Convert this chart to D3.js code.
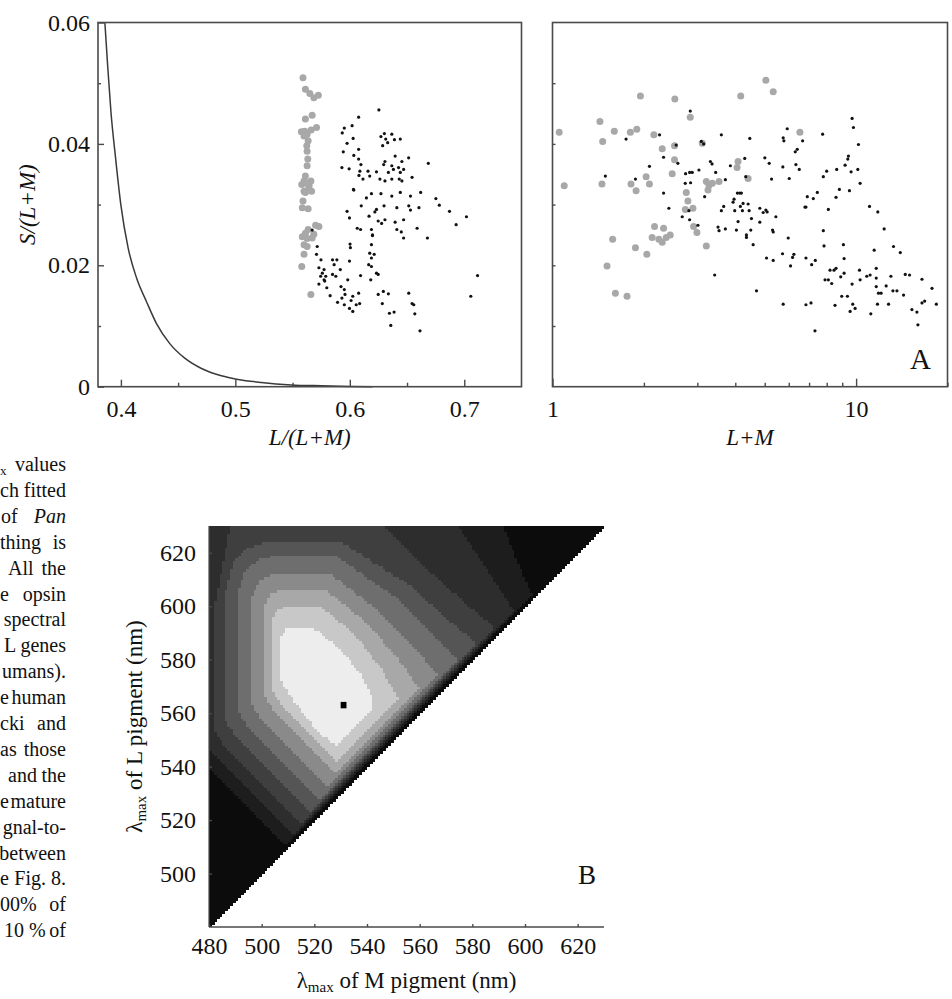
<!DOCTYPE html>
<html><head><meta charset="utf-8">
<script src="https://cdn.jsdelivr.net/npm/d3@7"></script>
<style>
body{margin:0;background:#fff;}
svg{display:block;}
text{font-family:"Liberation Serif","Times New Roman",serif;fill:#111;}
</style></head><body>
<svg id="chart" width="952" height="999"></svg>
<script>
// ---------------- DATA ----------------
// Panel A left: theoretical curve S/(L+M) vs L/(L+M)
const curveX = [0.386,0.3884,0.3913,0.3954,0.400,0.4064,0.4137,0.4224,0.4311,0.4427,0.4558,0.4704,0.4878,0.5023,0.5227,0.5488,0.575,0.600,0.620];
const curveY = [0.0600,0.0530,0.0453,0.0376,0.0299,0.0228,0.0179,0.0140,0.0104,0.0071,0.0047,0.0030,0.0018,0.0012,0.0007,0.0003,0.00015,0.00005,0];

// Panel A left: grey (Pan) points  [L/(L+M), S/(L+M)]
const leftGrey = [[0.5591,0.0509],[0.5612,0.0490],[0.5651,0.0483],[0.5686,0.0476],[0.5725,0.0480],[0.5671,0.0447],[0.5612,0.0441],
[0.5577,0.0420],[0.5606,0.0421],[0.5627,0.0416],[0.5662,0.0423],[0.5709,0.0427],[0.5600,0.0413],[0.5636,0.0405],[0.5624,0.0397],
[0.5627,0.0388],[0.5633,0.0375],[0.5627,0.0364],[0.5612,0.0347],[0.5600,0.0339],[0.5580,0.0333],[0.5624,0.0335],[0.5645,0.0331],
[0.5660,0.0339],[0.5636,0.0325],[0.5666,0.0322],[0.5600,0.0322],[0.5612,0.0320],[0.5591,0.0306],[0.5585,0.0295],[0.5636,0.0293],
[0.5701,0.0266],[0.5730,0.0264],[0.5636,0.0259],[0.5612,0.0253],[0.5585,0.0247],[0.5627,0.0244],[0.5671,0.0245],[0.5686,0.0251],
[0.5600,0.0234],[0.5627,0.0231],[0.5600,0.0218],[0.5580,0.0198],[0.5660,0.0152]];

// Panel A left: black (human) points
const leftBlack = [[0.6254,0.0456],[0.6077,0.0444],[0.6020,0.0430],[0.5952,0.0426],[0.5934,0.0418],[0.6029,0.0409],[0.5976,0.0401],[0.5943,0.0387],
[0.6077,0.0391],[0.6035,0.0381],[0.6077,0.0375],[0.5931,0.0361],[0.5994,0.0359],[0.6097,0.0366],[0.6088,0.0355],[0.6080,0.0348],[0.6159,0.0355],[0.6032,0.0325],
[0.6272,0.0412],[0.6302,0.0417],[0.6314,0.0408],[0.6367,0.0416],[0.6287,0.0397],[0.6331,0.0402],[0.6390,0.0407],[0.6441,0.0408],
[0.6396,0.0380],[0.6307,0.0371],[0.6296,0.0366],[0.6455,0.0371],[0.6514,0.0377],[0.6367,0.0364],[0.6381,0.0358],[0.6337,0.0353],[0.6426,0.0361],[0.6441,0.0353],[0.6470,0.0358],
[0.6307,0.0339],[0.6263,0.0342],[0.6367,0.0342],[0.6432,0.0342],[0.6455,0.0339],[0.6544,0.0345],[0.6686,0.0368],
[0.6115,0.0342],[0.6174,0.0347],[0.6233,0.0354],[0.6035,0.0324],[0.6189,0.0318],[0.6145,0.0311],[0.6272,0.0318],
[0.6367,0.0314],[0.6441,0.0320],[0.6530,0.0314],[0.6619,0.0320],[0.6752,0.0310],[0.6782,0.0299],[0.6871,0.0289],[0.7019,0.0280],[0.6929,0.0267],
[0.6100,0.0298],[0.6219,0.0288],[0.6233,0.0292],[0.6299,0.0298],[0.6411,0.0295],[0.6515,0.0298],[0.6530,0.0291],[0.6604,0.0295],[0.6470,0.0275],
[0.5976,0.0289],[0.5997,0.0278],[0.6168,0.0281],[0.6248,0.0273],[0.6307,0.0275],[0.6396,0.0271],[0.6588,0.0261],[0.6411,0.0259],[0.6450,0.0255],[0.6470,0.0245],[0.6678,0.0245],
[0.6065,0.0261],[0.6094,0.0259],[0.6189,0.0259],[0.6198,0.0250],[0.6278,0.0269],
[0.5671,0.0258],[0.5715,0.0231],[0.5709,0.0218],[0.5748,0.0209],[0.5730,0.0196],[0.5775,0.0193],[0.5790,0.0182],[0.5730,0.0169],[0.5775,0.0176],
[0.5849,0.0209],[0.5863,0.0201],[0.5887,0.0209],[0.5849,0.0185],[0.5878,0.0182],[0.5799,0.0163],[0.5828,0.0150],[0.5760,0.0187],[0.5781,0.0174],[0.5745,0.0182],
[0.5917,0.0193],[0.5982,0.0176],[0.6005,0.0229],[0.6002,0.0235],[0.5997,0.0207],
[0.5923,0.0165],[0.5952,0.0160],[0.5958,0.0152],[0.5931,0.0146],[0.5893,0.0139],[0.5952,0.0135],[0.6026,0.0149],[0.6011,0.0142],[0.5997,0.0129],[0.6026,0.0124],[0.6056,0.0135],[0.6077,0.0154],[0.6086,0.0137],
[0.6174,0.0220],[0.6189,0.0212],[0.6213,0.0218],[0.6165,0.0201],[0.6189,0.0198],[0.6233,0.0187],[0.6183,0.0176],[0.6094,0.0183],[0.6248,0.0185],[0.6189,0.0234],[0.6198,0.0249],
[0.6248,0.0152],[0.6293,0.0157],[0.6284,0.0137],[0.6337,0.0153],[0.6346,0.0121],[0.6387,0.0123],[0.6358,0.0101],[0.6515,0.0154],[0.6544,0.0137],[0.6559,0.0135],[0.6568,0.0120],[0.6613,0.0092],
[0.7057,0.0149],[0.7116,0.0183]];

// Panel A right: grey points [L+M, S/(L+M)]
const rightGrey = [[1.052,0.0419],[1.093,0.0331],[1.433,0.0437],[1.463,0.0404],[1.455,0.0334],[1.512,0.0199],[1.578,0.0243],[1.598,0.0421],
[1.611,0.0154],[1.760,0.0149],[1.805,0.0419],[1.895,0.0424],[1.814,0.0334],[1.885,0.0323],[1.876,0.0229],[1.948,0.0479],[2.034,0.0346],
[2.086,0.0334],[2.045,0.0218],[2.129,0.0246],[2.157,0.0415],[2.168,0.0264],[2.240,0.0243],[2.298,0.0238],[2.322,0.0261],[2.369,0.0246],
[2.442,0.0250],[2.298,0.0392],[2.529,0.0474],[2.523,0.0397],[2.523,0.0374],[2.479,0.0351],[2.758,0.0320],[2.793,0.0306],[2.843,0.0444],
[2.737,0.0292],[2.901,0.0294],[2.915,0.0264],[2.990,0.0254],[3.114,0.0401],[3.211,0.0338],[3.277,0.0332],[3.252,0.0324],[3.361,0.0335],
[3.536,0.0338],[3.211,0.0232],[4.085,0.0371],[4.055,0.0361],[4.169,0.0479],[4.409,0.0343],[5.043,0.0505],[5.333,0.0486],[6.531,0.0419]];

// Panel A right: black points
const rightBlack = [[2.843,0.0454],[1.747,0.0408],[2.252,0.0415],[1.493,0.0347],[1.876,0.0342],[2.086,0.0363],[2.322,0.0378],[2.322,0.0319],
[2.417,0.0294],[2.555,0.0398],[2.588,0.0368],[2.675,0.0280],[2.737,0.0335],[2.744,0.0351],[2.829,0.0353],[2.850,0.0336],[2.886,0.0353],
[2.814,0.0290],[2.829,0.0275],[3.013,0.0266],[3.036,0.0357],[3.091,0.0404],[3.170,0.0313],[3.146,0.0400],[3.311,0.0371],[3.353,0.0367],
[3.447,0.0353],[3.421,0.0184],[3.509,0.0263],[3.536,0.0257],[3.599,0.0415],[3.599,0.0290],[3.664,0.0297],[3.710,0.0341],[3.710,0.0260],
[3.854,0.0364],[3.933,0.0304],[3.963,0.0309],[3.983,0.0290],[4.064,0.0319],[4.085,0.0272],[4.034,0.0258],[4.137,0.0319],[4.190,0.0319],
[4.158,0.0297],[4.222,0.0290],[4.244,0.0302],[4.298,0.0376],[4.331,0.0346],[4.353,0.0246],[4.353,0.0250],[4.409,0.0301],[4.443,0.0290],
[4.465,0.0409],[4.522,0.0277],[4.499,0.0258],[4.580,0.0234],[4.698,0.0158],[4.818,0.0294],[4.818,0.0271],[5.005,0.0377],[4.942,0.0287],
[5.043,0.0291],[5.093,0.0288],[5.069,0.0212],[5.173,0.0368],[5.266,0.0342],[5.333,0.0208],[5.306,0.0258],[5.333,0.0255],[5.442,0.0280],
[5.753,0.0410],[5.782,0.0405],[5.738,0.0362],[5.724,0.0219],[5.753,0.0136],[5.931,0.0425],[5.976,0.0245],[6.022,0.0343],[6.083,0.0199],
[6.176,0.0213],[6.239,0.0218],[6.303,0.0387],[6.335,0.0366],[6.400,0.0391],[6.498,0.0358],[6.665,0.0405],[6.784,0.0296],[6.836,0.0296],
[6.906,0.0313],[6.836,0.0212],[6.836,0.0135],[7.103,0.0138],[7.139,0.0201],[7.228,0.0310],[7.338,0.0208],[7.451,0.0320],[7.320,0.0092],
[7.758,0.0416],[7.798,0.0346],[7.798,0.0257],[7.840,0.0232],[8.000,0.0355],[8.102,0.0292],[7.900,0.0176],[8.102,0.0176],[8.205,0.0192],
[8.311,0.0170],[8.459,0.0192],[8.588,0.0195],[8.523,0.0134],[8.632,0.0358],[8.588,0.0312],[8.809,0.0325],[8.899,0.0181],[8.967,0.0149],
[9.082,0.0234],[9.130,0.0211],[9.199,0.0365],[9.130,0.0187],[9.387,0.0375],[9.435,0.0380],[9.507,0.0323],[9.363,0.0149],[9.555,0.0124],
[9.701,0.0442],[9.799,0.0427],[9.627,0.0354],[9.701,0.0169],[9.750,0.0136],[9.924,0.0129],[10.18,0.0399],[10.13,0.0358],[10.31,0.0335],
[10.26,0.0192],[10.31,0.0176],[11.07,0.0297],[11.79,0.0288],[12.37,0.0260],[11.47,0.0225],[10.84,0.0182],[11.12,0.0184],[11.65,0.0195],
[11.65,0.0179],[11.65,0.0165],[11.85,0.0154],[12.09,0.0154],[11.76,0.0136],[11.18,0.0120],[12.56,0.0166],[12.79,0.0136],[13.02,0.0182],
[13.22,0.0158],[13.28,0.0231],[13.98,0.0221],[13.63,0.0158],[14.33,0.0151],[14.52,0.0185],[15.00,0.0184],[15.27,0.0127],[15.86,0.0123],
[15.98,0.0102],[16.48,0.0177],[16.82,0.0141],[16.48,0.0138],[17.78,0.0162],[18.38,0.0136]];

// Panel B: contour bands (outer -> inner), polygons in [M lambda_max, L lambda_max] nm
const bandPolygons = [
  [[470,550],[470,640],[588,640],[595,622],[600,610],[603,604],[509.5,510.5]],
  [[470,557],[470,640],[568,640],[578,625],[588,610],[596,598],[512.5,514.5]],
  [[482.5,553],[482.5,602],[485,614],[490,640],[540,640],[548,628],[565,612],[580,599],[589,592],[515.5,518.5],[485,549]],
  [[486.5,557],[486.5,606],[489,616],[495,622],[503,624.3],[530,624.3],[556,608],[572,594],[582,586],[519,523],[489,553]],
  [[491.5,560],[491.5,607],[494,614],[500,618],[507,619],[528,619],[550,604],[565,590],[575,580],[522.5,527.5],[494,556]],
  [[496.5,563],[496.5,604],[499,609.5],[504,612.3],[526,612.3],[545,598],[558,585],[567,574],[525.5,532.5],[499,559]],
  [[501,567],[501,600],[503,604.5],[508,606.3],[524,606.3],[540,594],[552,580],[560,569],[528.5,537.5],[504,562]],
  [[504,569],[504,595],[506,599],[511,600.4],[522,600.4],[535,590],[546,576],[552,565],[529,542],[507,564]],
  [[507.5,572],[507.5,589],[510,592.5],[519,592.5],[530,584],[538,574],[542,566],[542,561],[529,548],[522,552],[512,565]]
];
const bandColors = ["#0c0c0c","#1d1d1d","#2d2d2d","#3f3f3f","#555555","#6e6e6e","#8a8a8a","#a8a8a8","#c8c8c8","#ededed"];
const peakPoint = [531, 563];
const lambdaMin = 480, lambdaMax = 630;

// Ticks
const leftXTicks = [0.4,0.5,0.6,0.7], leftXMinor = [0.45,0.55,0.65];
const leftYTicks = [0,0.02,0.04,0.06], leftYMinor = [0.01,0.03,0.05];
const rightXTicks = [1,10], rightXMinor = [2,3,4,5,6,7,8,9,20];
const rightYTicks = [0.01,0.02,0.03,0.04,0.05];
const heatXTicks = [480,500,520,540,560,580,600,620];
const heatYTicks = [500,520,540,560,580,600,620];

// Clipped text column on the left (left fragment | right-justified fragment)
const textLines = [
  ["x","values"],["ch","fitted"],["of","Pan"],["thing","is"],["All","the"],["e","opsin"],["","spectral"],["L","genes"],
  ["","umans)."],["e","human"],["cki","and"],["as","those"],["and","the"],["e","mature"],["","gnal-to-"],["","between"],
  ["e","Fig. 8."],["00%","of"],["10 %","of"]
];
const textLeftX = [0,0,1,0,8,0,0,4,0,0,0,0,8,0,0,0,0,0,4];

// ---------------- DRAW ----------------
const svg = d3.select("#chart");
const frameColor = "#4a4a4a";
const tickFont = 24;

// ===== Panel A left =====
const xL = d3.scaleLinear([0.38,0.75],[98,521.5]);
const yA = d3.scaleLinear([0,0.06],[386.7,22.5]);
const gL = svg.append("g");

gL.append("g").attr("transform",`translate(0,${yA(0)})`)
  .call(d3.axisBottom(xL).tickValues(leftXTicks).tickSize(-7).tickPadding(13).tickFormat(d3.format(".1f")))
  .call(g=>g.select(".domain").remove());
gL.append("g").attr("transform",`translate(0,${yA(0)})`)
  .call(d3.axisBottom(xL).tickValues(leftXMinor).tickSize(-4).tickFormat(""))
  .call(g=>g.select(".domain").remove());
gL.append("g").attr("transform",`translate(${xL.range()[0]},0)`)
  .call(d3.axisLeft(yA).tickValues(leftYTicks).tickSize(-6).tickPadding(8).tickFormat(d=>d===0?"0":d.toFixed(2)))
  .call(g=>g.select(".domain").remove());
gL.append("g").attr("transform",`translate(${xL.range()[0]},0)`)
  .call(d3.axisLeft(yA).tickValues(leftYMinor).tickSize(-3).tickFormat(""))
  .call(g=>g.select(".domain").remove());

const curveLine = d3.line().x((d,i)=>xL(curveX[i])).y((d,i)=>yA(curveY[i])).curve(d3.curveMonotoneX);
gL.append("path").datum(curveX).attr("d",curveLine).attr("fill","none").attr("stroke","#3a3a3a").attr("stroke-width",1.5);

gL.append("g").selectAll("circle").data(leftGrey).join("circle")
  .attr("cx",d=>xL(d[0])).attr("cy",d=>yA(d[1])).attr("r",3.5).attr("fill","#a8a8a8");
gL.append("g").selectAll("circle").data(leftBlack).join("circle")
  .attr("cx",d=>xL(d[0])).attr("cy",d=>yA(d[1])).attr("r",1.6).attr("fill","#111");

gL.append("rect").attr("x",xL.range()[0]).attr("y",yA.range()[1])
  .attr("width",xL.range()[1]-xL.range()[0]).attr("height",yA.range()[0]-yA.range()[1])
  .attr("fill","none").attr("stroke",frameColor).attr("stroke-width",1.6);

// ===== Panel A right =====
const xR = d3.scaleLog([1,20],[552.5,947.5]);
const gR = svg.append("g");
gR.append("g").attr("transform",`translate(0,${yA(0)})`)
  .call(d3.axisBottom(xR).tickValues(rightXTicks).tickSize(-8).tickPadding(13).tickFormat(d3.format("d")))
  .call(g=>g.select(".domain").remove());
gR.append("g").attr("transform",`translate(0,${yA(0)})`)
  .call(d3.axisBottom(xR).tickValues(rightXMinor).tickSize(-4).tickFormat(""))
  .call(g=>g.select(".domain").remove());
gR.append("g").attr("transform",`translate(${xR.range()[0]},0)`)
  .call(d3.axisLeft(yA).tickValues(rightYTicks).tickSize(-3).tickFormat(""))
  .call(g=>g.select(".domain").remove());

gR.append("g").selectAll("circle").data(rightGrey).join("circle")
  .attr("cx",d=>xR(d[0])).attr("cy",d=>yA(d[1])).attr("r",3.5).attr("fill","#a8a8a8");
gR.append("g").selectAll("circle").data(rightBlack).join("circle")
  .attr("cx",d=>xR(d[0])).attr("cy",d=>yA(d[1])).attr("r",1.6).attr("fill","#111");

gR.append("rect").attr("x",xR.range()[0]).attr("y",yA.range()[1])
  .attr("width",xR.range()[1]-xR.range()[0]).attr("height",yA.range()[0]-yA.range()[1])
  .attr("fill","none").attr("stroke",frameColor).attr("stroke-width",1.6);

// titles panel A
svg.append("text").attr("x",(xL.range()[0]+xL.range()[1])/2).attr("y",445).attr("text-anchor","middle")
  .attr("font-size",23).attr("font-style","italic").text("L/(L+M)");
svg.append("text").attr("x",(xR.range()[0]+xR.range()[1])/2).attr("y",445).attr("text-anchor","middle")
  .attr("font-size",23).attr("font-style","italic").text("L+M");
svg.append("text").attr("transform",`translate(35,${(yA.range()[0]+yA.range()[1])/2}) rotate(-90)`)
  .attr("text-anchor","middle").attr("font-size",23).attr("font-style","italic").text("S/(L+M)");
svg.append("text").attr("x",931).attr("y",369).attr("text-anchor","end")
  .attr("font-family","Liberation Sans, Arial, sans-serif").attr("font-size",29).text("A");

// ===== Panel B heatmap =====
const xH = d3.scaleLinear([lambdaMin,lambdaMax],[209,604]);
const yH = d3.scaleLinear([lambdaMin,lambdaMax],[927,526]);
const gH = svg.append("g");

function levelAt(m,l){
  let lev = 0;
  for(let k=0;k<bandPolygons.length;k++){
    if(d3.polygonContains(bandPolygons[k],[m,l])) lev = k+1; else break;
  }
  return lev;
}
const cells = [];
for(let L=lambdaMin; L<lambdaMax; L++){
  let runStart = null, runLev = null;
  for(let M=lambdaMin; M<=L; M++){
    const lev = levelAt(M+0.5,L+0.5);
    if(runStart===null){runStart=M;runLev=lev;}
    else if(lev!==runLev){cells.push({m0:runStart,m1:M,l:L,lev:runLev});runStart=M;runLev=lev;}
  }
  cells.push({m0:runStart,m1:L+1,l:L,lev:runLev});
}
gH.append("g").attr("shape-rendering","crispEdges").selectAll("rect").data(cells).join("rect")
  .attr("x",d=>xH(d.m0)).attr("y",d=>yH(d.l+1))
  .attr("width",d=>xH(d.m1)-xH(d.m0)+0.3).attr("height",d=>yH(d.l)-yH(d.l+1)+0.3)
  .attr("fill",d=>bandColors[d.lev]);
gH.append("rect").attr("x",xH(peakPoint[0]-1)).attr("y",yH(peakPoint[1]+1.2))
  .attr("width",xH(peakPoint[0]+1.2)-xH(peakPoint[0]-1)).attr("height",yH(peakPoint[1]-1.2)-yH(peakPoint[1]+1.2))
  .attr("fill","#000");

// axes B
gH.append("g").attr("transform",`translate(0,${yH(lambdaMin)})`)
  .call(d3.axisBottom(xH).tickValues(heatXTicks).tickSize(-3).tickPadding(10))
  .call(g=>g.select(".domain").attr("stroke",frameColor).attr("stroke-width",1.4).attr("d",`M${xH(lambdaMin)},0H${xH(lambdaMax)}`));
gH.append("g").attr("transform",`translate(${xH(lambdaMin)},0)`)
  .call(d3.axisLeft(yH).tickValues(heatYTicks).tickSize(-3).tickPadding(13))
  .call(g=>g.select(".domain").attr("stroke",frameColor).attr("stroke-width",1.2).attr("d",`M0,${yH(lambdaMin)}V${yH(lambdaMax)}`));

svg.selectAll(".tick text").attr("font-size",tickFont).attr("font-family","Liberation Serif, serif").attr("fill","#111");
svg.selectAll(".tick line").attr("stroke",frameColor).attr("stroke-width",1.4);

const tX = svg.append("text").attr("x",(xH.range()[0]+xH.range()[1])/2).attr("y",988).attr("text-anchor","middle").attr("font-size",23);
tX.append("tspan").text("λ");
tX.append("tspan").attr("font-size",15).attr("dy",4).text("max");
tX.append("tspan").attr("dy",-4).text(" of M pigment (nm)");
const tY = svg.append("text").attr("transform",`translate(142,${(yH.range()[0]+yH.range()[1])/2}) rotate(-90)`).attr("text-anchor","middle").attr("font-size",23);
tY.append("tspan").text("λ");
tY.append("tspan").attr("font-size",15).attr("dy",4).text("max");
tY.append("tspan").attr("dy",-4).text(" of L pigment (nm)");
svg.append("text").attr("x",596).attr("y",884).attr("text-anchor","end")
  .attr("font-family","Liberation Sans, Arial, sans-serif").attr("font-size",27).text("B");

// ===== clipped text column =====
const gT = svg.append("g");
textLines.forEach((ln,i)=>{
  const y = 471 + i*25.9;
  if(ln[0]){
    if(i===0){
      gT.append("text").attr("x",textLeftX[i]).attr("y",y+4).attr("font-size",13).text(ln[0]);
    } else {
      gT.append("text").attr("x",textLeftX[i]).attr("y",y).attr("font-size",20).text(ln[0]);
    }
  }
  gT.append("text").attr("x",66).attr("y",y).attr("text-anchor","end").attr("font-size",20)
    .attr("font-style", ln[1]==="Pan"?"italic":"normal").text(ln[1]);
});
</script></body></html>
